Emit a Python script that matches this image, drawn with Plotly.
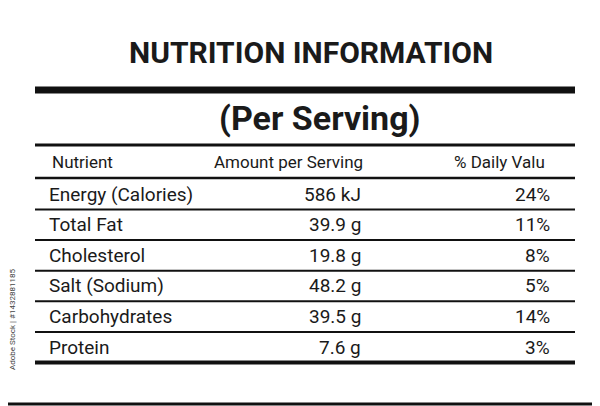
import plotly.graph_objects as go

nutrients = ["Energy (Calories)", "Total Fat", "Cholesterol", "Salt (Sodium)", "Carbohydrates", "Protein"]
amounts = ["586 kJ", "39.9 g", "19.8 g", "48.2 g", "39.5 g", "7.6 g"]
daily = ["24%", "11%", "8%", "5%", "14%", "3%"]
headers = ["Nutrient", "Amount per Serving", "% Daily Valu"]

fig = go.Figure()
F = "Roboto"
ann = []
shapes = []
def line(y, w, x0=35, x1=575):
    shapes.append(dict(type="line", x0=x0, x1=x1, y0=y, y1=y, line=dict(color="#111", width=w)))

shapes.append(dict(type="rect", x0=2, x1=598, y0=2, y1=404, line=dict(color="#111", width=3)))
ann.append(dict(x=311, y=52, text="<b>NUTRITION INFORMATION</b>", font=dict(family=F, size=30, color="#1a1a1a"), showarrow=False))
line(90, 7)
ann.append(dict(x=320, y=118, text="<b>(Per Serving)</b>", font=dict(family=F, size=34, color="#1a1a1a"), showarrow=False))
line(145, 3)
ann.append(dict(x=50, y=162, text=headers[0], xanchor="left", font=dict(family=F, size=17, color="#1a1a1a"), showarrow=False))
ann.append(dict(x=365, y=162, text=headers[1], xanchor="right", font=dict(family=F, size=17, color="#1a1a1a"), showarrow=False))
ann.append(dict(x=547, y=162, text=headers[2], xanchor="right", font=dict(family=F, size=17, color="#1a1a1a"), showarrow=False))
line(178, 2.5)
y0, h = 194, 30.6
for i, (n, a, d) in enumerate(zip(nutrients, amounts, daily)):
    y = y0 + i * h
    ann.append(dict(x=47, y=y, text=n, xanchor="left", font=dict(family=F, size=19, color="#1a1a1a"), showarrow=False))
    ann.append(dict(x=363, y=y, text=a, xanchor="right", font=dict(family=F, size=19, color="#1a1a1a"), showarrow=False))
    ann.append(dict(x=552, y=y, text=d, xanchor="right", font=dict(family=F, size=19, color="#1a1a1a"), showarrow=False))
    line(y + 15.5, 4 if i == len(nutrients) - 1 else 2)
ann.append(dict(x=12, y=320, text="Adobe Stock | #1432881185", textangle=-90, font=dict(family=F, size=8, color="#444"), showarrow=False))

fig.update_layout(width=600, height=406, margin=dict(l=0, r=0, t=0, b=0),
                  paper_bgcolor="white", plot_bgcolor="white",
                  xaxis=dict(range=[8, 608], visible=False, fixedrange=True),
                  yaxis=dict(range=[414, 8], visible=False, fixedrange=True),
                  annotations=ann, shapes=shapes, showlegend=False)
fig.write_html("out.html")
